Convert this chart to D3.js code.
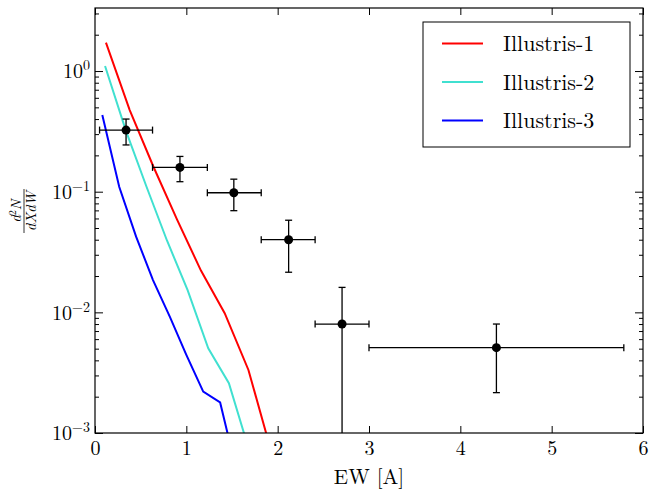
<!DOCTYPE html>
<html>
<head>
<meta charset="utf-8">
<script src="https://cdn.jsdelivr.net/npm/d3@7"></script>
<style>
  body { margin: 0; background: #fff; }
</style>
</head>
<body>
<div id="chart"></div>
<script>
// observed points (EW bins) with error bars
var pointX = [0.34, 0.93, 1.52, 2.12, 2.705, 4.395];
var pointY = [0.324, 0.159, 0.098, 0.040, 0.0080, 0.0051];
var xLo = [0.05, 0.63, 1.23, 1.82, 2.41, 3.0];
var xHi = [0.63, 1.23, 1.82, 2.41, 3.0, 5.79];
var yLo = [0.244, 0.121, 0.0696, 0.0215, 0.00001, 0.00216];
var yHi = [0.40, 0.196, 0.127, 0.058, 0.0161, 0.0080];

// simulation curves
var ew1 = [0.12, 0.38, 0.64, 0.90, 1.16, 1.42, 1.68, 1.94];
var ill1 = [1.72, 0.475, 0.161, 0.0583, 0.0222, 0.00984, 0.00333, 0.00066];
var ew2 = [0.11, 0.336, 0.562, 0.788, 1.014, 1.24, 1.466, 1.69];
var ill2 = [1.10, 0.324, 0.111, 0.0394, 0.0153, 0.00504, 0.00259, 0.00071];
var ew3 = [0.08, 0.265, 0.45, 0.635, 0.82, 1.00, 1.185, 1.37, 1.555];
var ill3 = [0.432, 0.110, 0.0424, 0.0185, 0.00916, 0.00444, 0.0022, 0.00179, 0.00047];

var seriesNames = ["Illustris-1", "Illustris-2", "Illustris-3"];
var seriesColors = ["#ff0000", "#40e0d0", "#0000ff"];

var xTicks = [0, 1, 2, 3, 4, 5, 6];
var yTicks = [1e-3, 1e-2, 1e-1, 1];
var yExp = ["\u22123", "\u22122", "\u22121", "0"];

var FONT = "'Latin Modern Roman', 'Liberation Serif', serif";

var W = 649, H = 491;
var margin = {left: 95, right: 6, top: 8, bottom: 58};
var w = W - margin.left - margin.right,
    h = H - margin.top - margin.bottom;

var svg = d3.select("#chart").append("svg")
    .attr("width", W).attr("height", H);

var g = svg.append("g")
    .attr("transform", "translate(" + margin.left + "," + margin.top + ")");

var x = d3.scaleLinear().domain([0, 6]).range([0, w]);
var y = d3.scaleLog().domain([1e-3, 3.33]).range([h, 0]);

g.append("clipPath").attr("id", "clip")
  .append("rect").attr("width", w).attr("height", h);

var plot = g.append("g").attr("clip-path", "url(#clip)");

// lines
var line = d3.line()
    .x(function(d) { return x(d[0]); })
    .y(function(d) { return y(d[1]); });

var series = [
  d3.zip(ew1, ill1),
  d3.zip(ew2, ill2),
  d3.zip(ew3, ill3)
];

series.forEach(function(s, i) {
  plot.append("path")
    .datum(s)
    .attr("d", line)
    .attr("fill", "none")
    .attr("stroke", seriesColors[i])
    .attr("stroke-width", 2);
});

// error bars
var cap = 3.5;
pointX.forEach(function(px, i) {
  var cx = x(px), cy = y(pointY[i]);
  var eb = plot.append("g").attr("stroke", "#000").attr("stroke-width", 1.3);
  eb.append("line").attr("x1", x(xLo[i])).attr("x2", x(xHi[i])).attr("y1", cy).attr("y2", cy);
  eb.append("line").attr("x1", cx).attr("x2", cx).attr("y1", y(yLo[i])).attr("y2", y(yHi[i]));
  eb.append("line").attr("x1", x(xLo[i])).attr("x2", x(xLo[i])).attr("y1", cy - cap).attr("y2", cy + cap);
  eb.append("line").attr("x1", x(xHi[i])).attr("x2", x(xHi[i])).attr("y1", cy - cap).attr("y2", cy + cap);
  eb.append("line").attr("x1", cx - cap).attr("x2", cx + cap).attr("y1", y(yLo[i])).attr("y2", y(yLo[i]));
  eb.append("line").attr("x1", cx - cap).attr("x2", cx + cap).attr("y1", y(yHi[i])).attr("y2", y(yHi[i]));
  plot.append("circle").attr("cx", cx).attr("cy", cy).attr("r", 4.5).attr("fill", "#000");
});

// minor ticks for log axis
var minorTicks = [];
[1e-3, 1e-2, 1e-1, 1].forEach(function(d) {
  for (var k = 2; k <= 9; k++) {
    if (d * k <= 3.33) minorTicks.push(d * k);
  }
});

function styleAxis(sel) {
  sel.select(".domain").remove();
  sel.selectAll("line").attr("stroke", "#000").attr("stroke-width", 1);
}

// bottom
g.append("g").attr("transform", "translate(0," + h + ")")
  .call(d3.axisBottom(x).tickValues(xTicks).tickSize(-7).tickPadding(8).tickFormat(d3.format("d")))
  .call(styleAxis)
  .selectAll("text").style("font-size", "20px").style("font-family", FONT);

// top
g.append("g")
  .call(d3.axisTop(x).tickValues(xTicks).tickSize(-7).tickFormat(""))
  .call(styleAxis);

// left major
var yAx = g.append("g")
  .call(d3.axisLeft(y).tickValues(yTicks).tickSize(-8).tickPadding(5).tickFormat(""))
  .call(styleAxis);

yAx.selectAll(".tick text").each(function(d, i) {
  var t = d3.select(this);
  t.style("font-size", "20px").style("font-family", FONT).attr("dy", "0.34em");
  t.append("tspan").text("10");
  t.append("tspan").style("font-size", "14px").attr("dy", -8).text(yExp[i]);
});

// left minor
g.append("g")
  .call(d3.axisLeft(y).tickValues(minorTicks).tickSize(-4).tickFormat(""))
  .call(styleAxis);

// right
g.append("g").attr("transform", "translate(" + w + ",0)")
  .call(d3.axisRight(y).tickValues(yTicks).tickSize(-8).tickFormat(""))
  .call(styleAxis);
g.append("g").attr("transform", "translate(" + w + ",0)")
  .call(d3.axisRight(y).tickValues(minorTicks).tickSize(-4).tickFormat(""))
  .call(styleAxis);

// frame
g.append("rect").attr("width", w).attr("height", h)
  .attr("fill", "none").attr("stroke", "#000").attr("stroke-width", 1.2);

// x label
svg.append("text")
  .attr("x", margin.left + w / 2).attr("y", 484)
  .attr("text-anchor", "middle")
  .style("font-size", "21px").style("font-family", FONT)
  .text("EW [A]");

// y label (fraction)
var yl = svg.append("g").attr("transform", "translate(24,211) rotate(-90)");
var num = yl.append("text").attr("text-anchor", "middle").attr("y", -3)
  .style("font-size", "14.5px").style("font-family", FONT).style("font-style", "italic");
num.append("tspan").text("d");
num.append("tspan").style("font-size", "10px").style("font-style", "normal").attr("dy", -5).text("2");
num.append("tspan").attr("dy", 5).text("N");
yl.append("line").attr("x1", -22).attr("x2", 22).attr("y1", 0).attr("y2", 0)
  .attr("stroke", "#000").attr("stroke-width", 0.8);
yl.append("text").attr("text-anchor", "middle").attr("y", 11.5)
  .style("font-size", "14.5px").style("font-family", FONT).style("font-style", "italic")
  .text("dXdW");

// legend
var leg = svg.append("g").attr("transform", "translate(423,22)");
leg.append("rect").attr("width", 207).attr("height", 125)
  .attr("fill", "#fff").attr("stroke", "#000").attr("stroke-width", 1);
var rows = leg.selectAll(".row").data(seriesNames).enter().append("g")
  .attr("transform", function(d, i) { return "translate(0," + (21.5 + i * 38.5) + ")"; });
rows.append("line").attr("x1", 19).attr("x2", 60).attr("y1", 0).attr("y2", 0)
  .attr("stroke", function(d, i) { return seriesColors[i]; }).attr("stroke-width", 2);
rows.append("text").attr("x", 80).attr("y", 0).attr("dy", "0.35em")
  .style("font-size", "22px").style("font-family", FONT)
  .text(function(d) { return d; });
</script>
</body>
</html>
